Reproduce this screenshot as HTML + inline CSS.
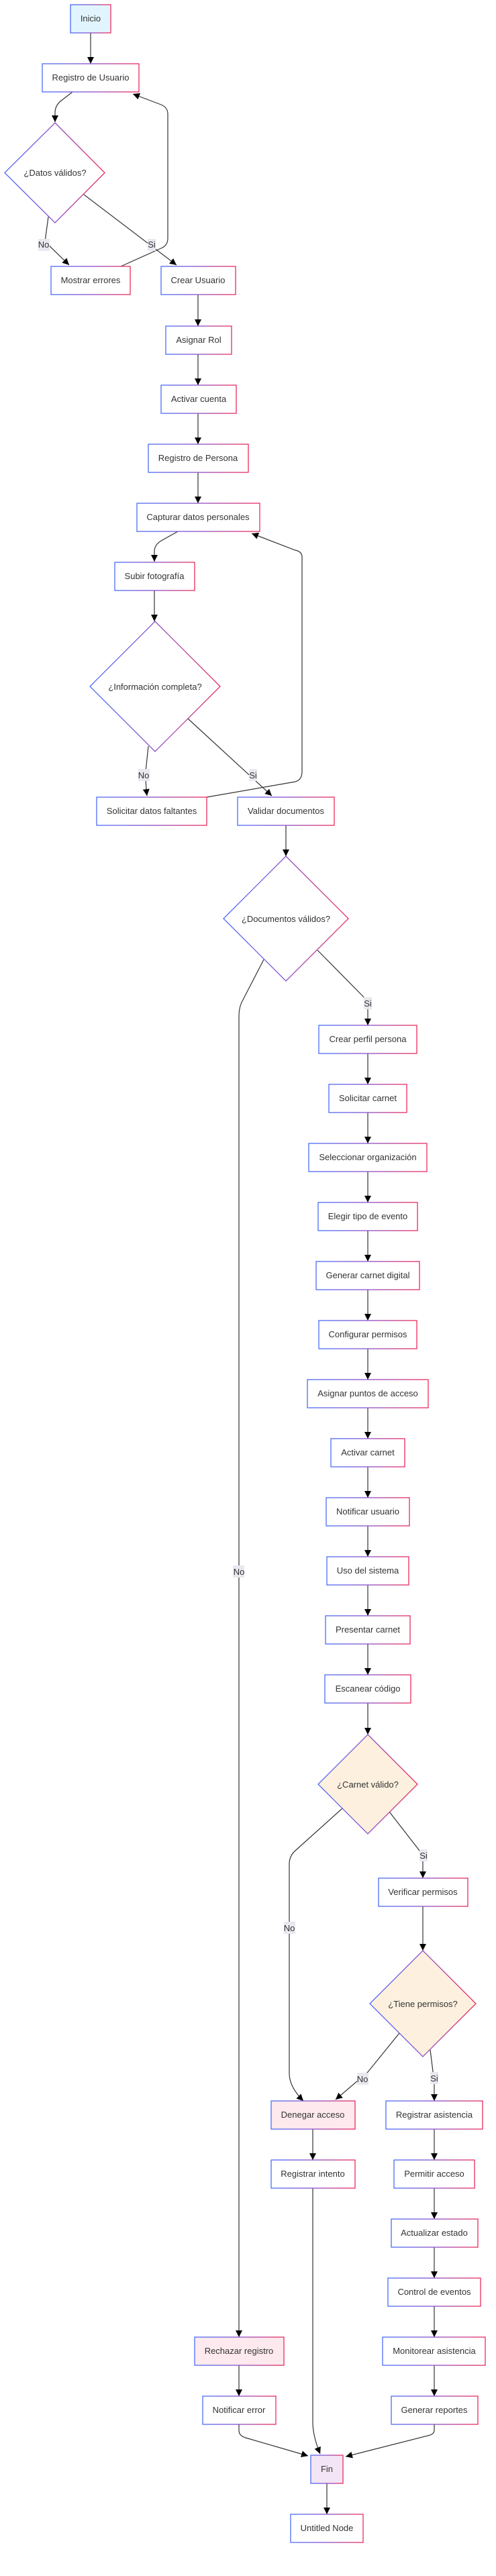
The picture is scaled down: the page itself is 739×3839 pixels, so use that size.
<!DOCTYPE html>
<html><head><meta charset="utf-8"><style>
html,body{margin:0;padding:0;background:#fff;}
svg{display:block;}
text{font-family:"Liberation Sans",Arial,sans-serif;font-size:13px;fill:#333;}
</style></head><body>
<svg width="739" height="3839" viewBox="0 0 739 3839" xmlns="http://www.w3.org/2000/svg">
<defs>
<linearGradient id="g" x1="0" y1="0" x2="1" y2="0">
<stop offset="0" stop-color="#4a6cf7"/><stop offset="0.5" stop-color="#8a4fc8"/><stop offset="1" stop-color="#ec2a5c"/>
</linearGradient>
<marker id="a" viewBox="0 0 10 10" refX="10" refY="5" markerWidth="10" markerHeight="10" markerUnits="userSpaceOnUse" orient="auto">
<path d="M0,0 L10,5 L0,10 z" fill="#000"/>
</marker>
</defs>
<g fill="none" stroke="#333" stroke-width="1.2" marker-end="url(#a)">
<path d="M135,49 V95"/>
<path d="M295,439 V486"/>
<path d="M295,528 V574"/>
<path d="M295,616 V662"/>
<path d="M295,704 V750"/>
<path d="M230,880 V926"/>
<path d="M426,1230 V1276"/>
<path d="M548,1570 V1616"/>
<path d="M548,1658 V1704"/>
<path d="M548,1746 V1792"/>
<path d="M548,1834 V1880"/>
<path d="M548,1922 V1968"/>
<path d="M548,2010 V2056"/>
<path d="M548,2098 V2144"/>
<path d="M548,2186 V2232"/>
<path d="M548,2274 V2320"/>
<path d="M548,2362 V2408"/>
<path d="M548,2450 V2496"/>
<path d="M548,2538 V2585"/>
<path d="M630,2841 V2907"/>
<path d="M466,3173 V3219"/>
<path d="M647,3173 V3219"/>
<path d="M647,3261 V3307"/>
<path d="M647,3349 V3395"/>
<path d="M647,3437 V3483"/>
<path d="M647,3525 V3571"/>
<path d="M356,3525 V3571"/>
<path d="M487,3701 V3747"/>
<path d="M108,137 L90,151 Q82,158 82,168 V182"/>
<path d="M72,323 L67,360 L103,395"/>
<path d="M125,290 L263,395"/>
<path d="M180,397 L240,370 Q250,366 250,355 V170 Q250,160 240,156 L198,140"/>
<path d="M265,792 L240,806 Q230,812 230,822 V837"/>
<path d="M221,1112 L217,1150 Q217,1170 219,1186"/>
<path d="M280,1071 L405,1186"/>
<path d="M308,1188 L440,1165 Q450,1162 450,1150 V830 Q450,822 440,820 L375,795"/>
<path d="M393,1430 L362,1490 Q356,1500 356,1515 V3483"/>
<path d="M473,1416 L541,1485 Q548,1492 548,1500 V1528"/>
<path d="M510,2695 L440,2758 Q431,2766 431,2778 V3090 Q431,3110 452,3131"/>
<path d="M580,2700 L625,2758 Q630,2765 630,2775 V2799"/>
<path d="M595,3030 L548,3088 L500,3129"/>
<path d="M641,3055 L646,3095 Q647,3100 647,3110 V3131"/>
<path d="M466,3261 V3610 Q466,3630 477,3657"/>
<path d="M356,3613 V3622 Q356,3630 366,3633 L459,3660"/>
<path d="M647,3613 V3622 Q647,3628 637,3630 L515,3661"/>
</g>
<g stroke="url(#g)" stroke-width="1.3">
<rect x="105" y="7" width="60" height="42" fill="#e1f5fe"/>
<rect x="63" y="95" width="144" height="42" fill="#fff"/>
<rect x="76" y="397" width="118" height="42" fill="#fff"/>
<rect x="240" y="397" width="111" height="42" fill="#fff"/>
<rect x="247" y="486" width="98" height="42" fill="#fff"/>
<rect x="240" y="574" width="112" height="42" fill="#fff"/>
<rect x="221" y="662" width="149" height="42" fill="#fff"/>
<rect x="204" y="750" width="183" height="42" fill="#fff"/>
<rect x="171" y="838" width="119" height="42" fill="#fff"/>
<rect x="144" y="1188" width="164" height="42" fill="#fff"/>
<rect x="354" y="1188" width="144" height="42" fill="#fff"/>
<rect x="475" y="1528" width="146" height="42" fill="#fff"/>
<rect x="490" y="1616" width="116" height="42" fill="#fff"/>
<rect x="460" y="1704" width="176" height="42" fill="#fff"/>
<rect x="474" y="1792" width="148" height="42" fill="#fff"/>
<rect x="471" y="1880" width="154" height="42" fill="#fff"/>
<rect x="475" y="1968" width="146" height="42" fill="#fff"/>
<rect x="458" y="2056" width="180" height="42" fill="#fff"/>
<rect x="493" y="2144" width="110" height="42" fill="#fff"/>
<rect x="486" y="2232" width="124" height="42" fill="#fff"/>
<rect x="487" y="2320" width="122" height="42" fill="#fff"/>
<rect x="485" y="2408" width="126" height="42" fill="#fff"/>
<rect x="484" y="2496" width="128" height="42" fill="#fff"/>
<rect x="564" y="2799" width="133" height="42" fill="#fff"/>
<rect x="404" y="3131" width="125" height="42" fill="#fde9ee"/>
<rect x="575" y="3131" width="144" height="42" fill="#fff"/>
<rect x="404" y="3219" width="125" height="42" fill="#fff"/>
<rect x="587" y="3219" width="120" height="42" fill="#fff"/>
<rect x="583" y="3307" width="129" height="42" fill="#fff"/>
<rect x="578" y="3395" width="138" height="42" fill="#fff"/>
<rect x="570" y="3483" width="153" height="42" fill="#fff"/>
<rect x="583" y="3571" width="129" height="42" fill="#fff"/>
<rect x="290" y="3483" width="133" height="42" fill="#fde9ee"/>
<rect x="302" y="3571" width="109" height="42" fill="#fff"/>
<rect x="463" y="3659" width="48" height="42" fill="#f3e5f5"/>
<rect x="433" y="3747" width="108" height="42" fill="#fff"/>
<polygon points="82,183 156,257.5 82,332 7,257.5" fill="#fff"/>
<polygon points="231,926 328,1023 231,1120 134,1023" fill="#fff"/>
<polygon points="426,1276 519,1369 426,1462 333,1369" fill="#fff"/>
<polygon points="548,2585 622,2659 548,2733 474,2659" fill="#fdf0de"/>
<polygon points="630,2907 709,2986 630,3065 551,2986" fill="#fdf0de"/>
</g>
<g fill="#e8e8f0">
<rect x="57" y="356" width="17" height="18"/>
<rect x="220" y="356" width="12" height="18"/>
<rect x="206" y="1146" width="17" height="18"/>
<rect x="371" y="1146" width="12" height="18"/>
<rect x="542" y="1486" width="12" height="18"/>
<rect x="347" y="2333" width="17" height="18"/>
<rect x="423" y="2864" width="17" height="18"/>
<rect x="625" y="2756" width="12" height="18"/>
<rect x="532" y="3089" width="17" height="18"/>
<rect x="641" y="3088" width="12" height="18"/>
</g>
<g text-anchor="middle">
<text x="65" y="369">No</text>
<text x="226" y="369">Si</text>
<text x="214" y="1160">No</text>
<text x="377" y="1160">Si</text>
<text x="548" y="1500">Si</text>
<text x="356" y="2347">No</text>
<text x="431" y="2878">No</text>
<text x="631" y="2770">Si</text>
<text x="540" y="3103">No</text>
<text x="647" y="3102">Si</text>
<text x="135" y="32">Inicio</text>
<text x="135" y="120">Registro de Usuario</text>
<text x="82" y="262">¿Datos válidos?</text>
<text x="135" y="422">Mostrar errores</text>
<text x="295" y="422">Crear Usuario</text>
<text x="296" y="511">Asignar Rol</text>
<text x="296" y="599">Activar cuenta</text>
<text x="295" y="687">Registro de Persona</text>
<text x="295" y="775">Capturar datos personales</text>
<text x="230" y="863">Subir fotografía</text>
<text x="231" y="1028">¿Información completa?</text>
<text x="226" y="1213">Solicitar datos faltantes</text>
<text x="426" y="1213">Validar documentos</text>
<text x="426" y="1374">¿Documentos válidos?</text>
<text x="548" y="1553">Crear perfil persona</text>
<text x="548" y="1641">Solicitar carnet</text>
<text x="548" y="1729">Seleccionar organización</text>
<text x="548" y="1817">Elegir tipo de evento</text>
<text x="548" y="1905">Generar carnet digital</text>
<text x="548" y="1993">Configurar permisos</text>
<text x="548" y="2081">Asignar puntos de acceso</text>
<text x="548" y="2169">Activar carnet</text>
<text x="548" y="2257">Notificar usuario</text>
<text x="548" y="2345">Uso del sistema</text>
<text x="548" y="2433">Presentar carnet</text>
<text x="548" y="2521">Escanear código</text>
<text x="548" y="2664">¿Carnet válido?</text>
<text x="630" y="2824">Verificar permisos</text>
<text x="630" y="2991">¿Tiene permisos?</text>
<text x="466" y="3156">Denegar acceso</text>
<text x="647" y="3156">Registrar asistencia</text>
<text x="466" y="3244">Registrar intento</text>
<text x="647" y="3244">Permitir acceso</text>
<text x="647" y="3332">Actualizar estado</text>
<text x="647" y="3420">Control de eventos</text>
<text x="647" y="3508">Monitorear asistencia</text>
<text x="647" y="3596">Generar reportes</text>
<text x="356" y="3508">Rechazar registro</text>
<text x="356" y="3596">Notificar error</text>
<text x="487" y="3684">Fin</text>
<text x="487" y="3772">Untitled Node</text>
</g>
</svg>
</body></html>
